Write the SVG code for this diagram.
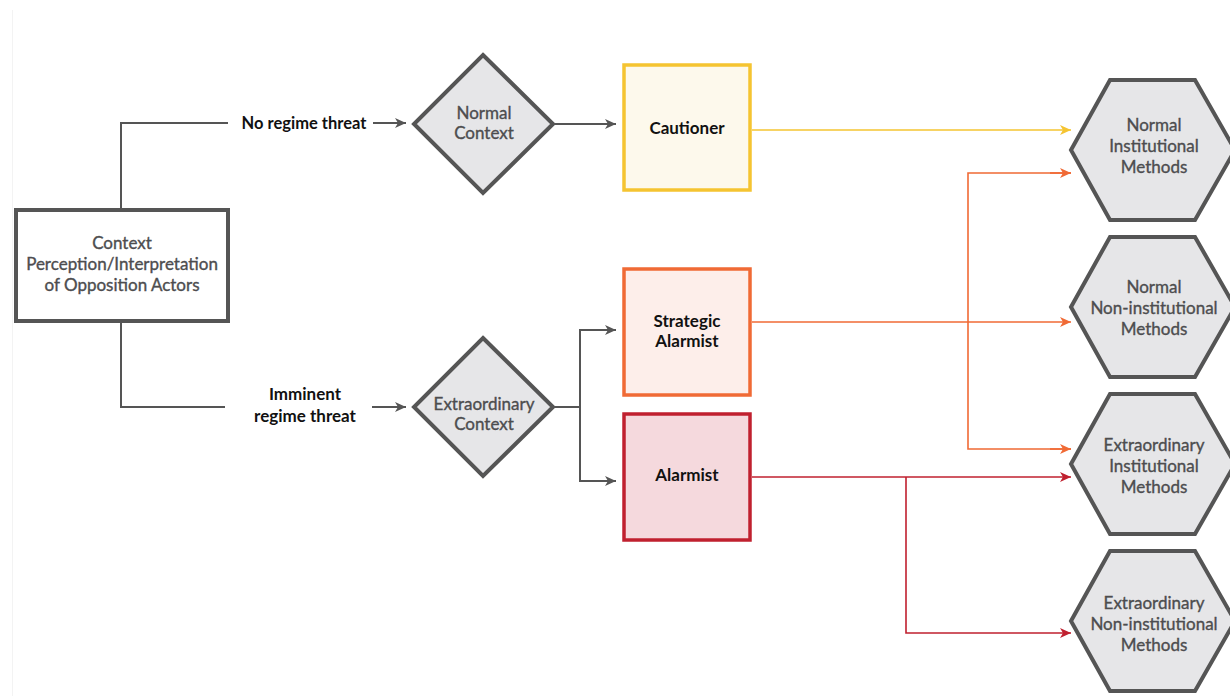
<svg xmlns="http://www.w3.org/2000/svg" width="1230" height="696" viewBox="0 0 1230 696">
<defs>
<style>
.t{font-family:"Lato","Noto Sans",sans-serif;font-size:17px;text-anchor:middle}
.g{fill:#4d4d4f;font-weight:400;stroke:#4d4d4f;stroke-width:0.35}
.k{fill:#111;font-weight:700}
.shape{fill:#e6e6e8;stroke:#555;stroke-width:4;stroke-linejoin:miter}
.gl{fill:none;stroke:#555;stroke-width:2}
.yl{fill:none;stroke:#f5c431;stroke-width:1.6}
.ol{fill:none;stroke:#f06a35;stroke-width:1.6}
.rl{fill:none;stroke:#c0202f;stroke-width:1.6}
</style>
<marker id="ag" markerUnits="userSpaceOnUse" markerWidth="14" markerHeight="12" refX="11" refY="6" orient="auto"><path d="M0,1 L11,6 L0,11 L3,6 Z" fill="#555"/></marker>
<marker id="ay" markerUnits="userSpaceOnUse" markerWidth="14" markerHeight="12" refX="11" refY="6" orient="auto"><path d="M0,1 L11,6 L0,11 L3,6 Z" fill="#f5c431"/></marker>
<marker id="ao" markerUnits="userSpaceOnUse" markerWidth="14" markerHeight="12" refX="11" refY="6" orient="auto"><path d="M0,1 L11,6 L0,11 L3,6 Z" fill="#f06a35"/></marker>
<marker id="ar" markerUnits="userSpaceOnUse" markerWidth="14" markerHeight="12" refX="11" refY="6" orient="auto"><path d="M0,1 L11,6 L0,11 L3,6 Z" fill="#c0202f"/></marker>
</defs>
<rect width="1230" height="696" fill="#fff"/>
<line x1="12.5" y1="10" x2="12.5" y2="696" stroke="#f3f3f3" stroke-width="1"/>

<g id="connectors">
<polyline class="gl" points="121,208 121,123 228,123"/>
<line class="gl" x1="373" y1="123" x2="406" y2="123" marker-end="url(#ag)"/>
<polyline class="gl" points="121,323 121,407 225,407"/>
<line class="gl" x1="372" y1="407" x2="406" y2="407" marker-end="url(#ag)"/>
<line class="gl" x1="555" y1="124" x2="616" y2="124" marker-end="url(#ag)"/>
<line class="gl" x1="555" y1="407" x2="580" y2="407"/>
<polyline class="gl" points="616,330 580,330 580,481 616,481"/>
<line class="gl" x1="600" y1="330" x2="616" y2="330" marker-end="url(#ag)"/>
<line class="gl" x1="600" y1="481" x2="616" y2="481" marker-end="url(#ag)"/>
<line class="yl" x1="752" y1="130" x2="1071" y2="130" marker-end="url(#ay)"/>
<line class="ol" x1="752" y1="322" x2="1071" y2="322" marker-end="url(#ao)"/>
<polyline class="ol" points="1071,173 968,173 968,449 1071,449"/>
<line class="ol" x1="1050" y1="173" x2="1071" y2="173" marker-end="url(#ao)"/>
<line class="ol" x1="1050" y1="449" x2="1071" y2="449" marker-end="url(#ao)"/>
<line class="rl" x1="752" y1="477" x2="1071" y2="477" marker-end="url(#ar)"/>
<polyline class="rl" points="906,477 906,633 1071,633" marker-end="url(#ar)"/>
</g>

<g id="context-perception">
<rect x="16" y="210" width="212" height="111" fill="#fff" stroke="#555" stroke-width="4"/>
<text class="t g" x="122" y="249">Context</text>
<text class="t g" x="122" y="270">Perception/Interpretation</text>
<text class="t g" x="122" y="291">of Opposition Actors</text>
</g>

<g id="label-no-threat">
<text class="t k" x="304" y="129" style="font-size:16.5px">No regime threat</text>
</g>
<g id="label-imminent">
<text class="t k" x="305" y="400">Imminent</text>
<text class="t k" x="305" y="422">regime threat</text>
</g>

<g id="normal-context">
<polygon class="shape" points="483,55 553,124 483,193 414,124"/>
<text class="t g" x="484" y="119">Normal</text>
<text class="t g" x="484" y="139">Context</text>
</g>

<g id="extraordinary-context">
<polygon class="shape" points="483,338 553,407 483,476 414,407"/>
<text class="t g" x="484" y="410">Extraordinary</text>
<text class="t g" x="484" y="430">Context</text>
</g>

<g id="cautioner">
<rect x="624" y="65" width="126" height="125" fill="#fdf9ec" stroke="#f5c431" stroke-width="3.5"/>
<text class="t k" x="687" y="134">Cautioner</text>
</g>

<g id="strategic-alarmist">
<rect x="624" y="269" width="126" height="126" fill="#fdeeea" stroke="#f06a35" stroke-width="3.5"/>
<text class="t k" x="687" y="327">Strategic</text>
<text class="t k" x="687" y="347">Alarmist</text>
</g>

<g id="alarmist">
<rect x="624" y="414" width="126" height="126" fill="#f5d9dd" stroke="#c0202f" stroke-width="3.5"/>
<text class="t k" x="687" y="481">Alarmist</text>
</g>

<g id="normal-institutional">
<polygon class="shape" points="1071,150 1110,80 1195,80 1235,150 1195,220 1110,220"/>
<text class="t g" x="1154" y="131">Normal</text>
<text class="t g" x="1154" y="152">Institutional</text>
<text class="t g" x="1154" y="173">Methods</text>
</g>

<g id="normal-non-institutional">
<polygon class="shape" points="1071,307 1110,237 1195,237 1235,307 1195,377 1110,377"/>
<text class="t g" x="1154" y="293">Normal</text>
<text class="t g" x="1154" y="314">Non-institutional</text>
<text class="t g" x="1154" y="335">Methods</text>
</g>

<g id="extraordinary-institutional">
<polygon class="shape" points="1071,464 1110,394 1195,394 1235,464 1195,534 1110,534"/>
<text class="t g" x="1154" y="451">Extraordinary</text>
<text class="t g" x="1154" y="472">Institutional</text>
<text class="t g" x="1154" y="493">Methods</text>
</g>

<g id="extraordinary-non-institutional">
<polygon class="shape" points="1071,621 1110,551 1195,551 1235,621 1195,691 1110,691"/>
<text class="t g" x="1154" y="609">Extraordinary</text>
<text class="t g" x="1154" y="630">Non-institutional</text>
<text class="t g" x="1154" y="651">Methods</text>
</g>
</svg>
